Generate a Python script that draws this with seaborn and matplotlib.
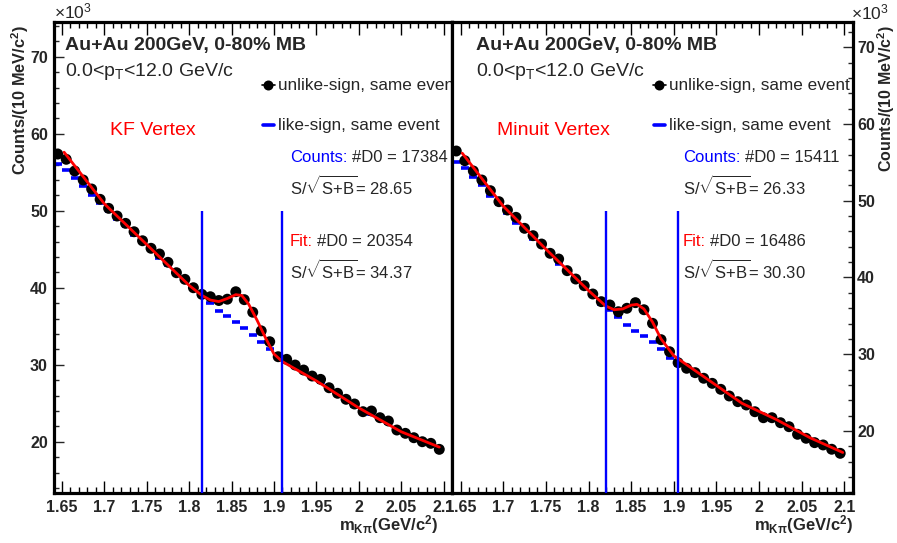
import matplotlib
matplotlib.use("Agg")
import matplotlib.pyplot as plt
from matplotlib.ticker import MultipleLocator, FuncFormatter
import seaborn as sns

# ---------------- data (counts in units of 10^3) ----------------
mass = [1.645, 1.655, 1.665, 1.675, 1.685, 1.695, 1.705, 1.715, 1.725, 1.735,
        1.745, 1.755, 1.765, 1.775, 1.785, 1.795, 1.805, 1.815, 1.825, 1.835,
        1.845, 1.855, 1.865, 1.875, 1.885, 1.895, 1.905, 1.915, 1.925, 1.935,
        1.945, 1.955, 1.965, 1.975, 1.985, 1.995, 2.005, 2.015, 2.025, 2.035,
        2.045, 2.055, 2.065, 2.075, 2.085, 2.095]

kf_unlike = [57.36, 56.68, 55.16, 53.99, 52.82, 51.48, 50.31, 49.31, 48.36, 47.27,
             46.10, 45.12, 44.38, 43.30, 41.95, 41.09, 40.00, 39.14, 38.83, 38.34,
             38.51, 39.48, 38.45, 36.82, 34.40, 32.99, 31.04, 30.70, 29.96, 29.31,
             28.53, 28.10, 27.01, 26.29, 25.51, 24.90, 23.90, 23.99, 23.12, 22.69,
             21.52, 21.09, 20.52, 20.00, 19.79, 19.01]
kf_like = [56.03, 55.29, 54.21, 53.21, 52.04, 51.04, 50.00, 48.88, 48.01, 46.84,
           45.97, 45.12, 43.90, 42.95, 41.87, 41.00, 40.00, 38.92, 38.05, 37.04,
           36.29, 35.55, 34.73, 33.86, 32.99, 32.00, 31.13, 30.40, 29.75, 29.05,
           28.35, 27.80, 26.90, 26.10, 25.35, 24.70, 23.90, 23.60, 22.95, 22.45,
           21.65, 21.00, 20.45, 19.95, 19.55, 18.95]
kf_fit_x = [1.6525, 1.70, 1.75, 1.80, 1.815, 1.825, 1.835, 1.845, 1.855, 1.862,
            1.87, 1.88, 1.89, 1.90, 1.91, 1.95, 2.00, 2.05, 2.095]
kf_fit_y = [57.6, 50.9, 45.6, 40.3, 39.0, 38.4, 38.2, 38.6, 39.1, 39.0,
            37.9, 35.8, 33.5, 31.4, 30.4, 27.9, 24.4, 21.3, 19.3]
kf_window = [1.815, 1.91]

mn_unlike = [56.48, 55.22, 53.88, 52.70, 51.31, 49.88, 48.79, 47.84, 46.41, 45.45,
             44.36, 43.15, 42.41, 40.89, 39.80, 38.93, 37.85, 36.85, 36.42, 35.54,
             35.99, 36.72, 35.80, 34.03, 31.90, 30.33, 28.90, 28.17, 27.60, 26.87,
             26.21, 25.43, 24.56, 23.82, 23.39, 22.51, 21.73, 21.73, 21.08, 20.56,
             19.57, 19.05, 18.48, 18.18, 17.62, 17.09]
mn_like = [55.09, 54.23, 53.06, 52.05, 50.62, 49.58, 48.37, 47.14, 46.19, 44.98,
           44.10, 42.93, 41.76, 40.98, 39.90, 38.80, 37.85, 36.55, 35.80, 34.89,
           33.81, 33.03, 32.38, 31.63, 30.64, 29.47, 28.65, 27.95, 27.35, 26.65,
           25.95, 25.20, 24.40, 23.65, 23.10, 22.35, 21.60, 21.45, 20.85, 20.35,
           19.45, 18.90, 18.35, 17.95, 17.45, 16.95]
mn_fit_x = [1.652, 1.70, 1.75, 1.80, 1.82, 1.83, 1.84, 1.85, 1.857, 1.865,
            1.875, 1.885, 1.90, 1.94, 1.98, 2.02, 2.06, 2.098]
mn_fit_y = [56.2, 49.3, 43.7, 38.3, 36.3, 35.8, 35.9, 36.4, 36.5, 35.9,
            34.2, 32.0, 29.8, 26.7, 23.6, 21.5, 19.1, 17.2]
mn_window = [1.82, 1.905]

panels = [
    dict(unlike=kf_unlike, like=kf_like, fx=kf_fit_x, fy=kf_fit_y, win=kf_window,
         win_top=50.0, ylim=(13.34, 74.55), vertex="KF Vertex",
         counts="#D0 = 17384", cs="28.65", fit="#D0 = 20354", fs="34.37"),
    dict(unlike=mn_unlike, like=mn_like, fx=mn_fit_x, fy=mn_fit_y, win=mn_window,
         win_top=48.7, ylim=(11.92, 73.33), vertex="Minuit Vertex",
         counts="#D0 = 15411", cs="26.33", fit="#D0 = 16486", fs="30.30"),
]

# ---------------- style ----------------
sns.set_style("white")
plt.rcParams["font.family"] = ["Liberation Sans", "DejaVu Sans"]
plt.rcParams["mathtext.fontset"] = "custom"
plt.rcParams["mathtext.rm"] = "Liberation Sans"
plt.rcParams["mathtext.it"] = "Liberation Sans:italic"
plt.rcParams["mathtext.bf"] = "Liberation Sans:bold"

W, H = 897, 543
fig = plt.figure(figsize=(W / 100, H / 100), dpi=100)
fig.patch.set_facecolor("white")

top_px, bot_px = 21.7, 493.0
frames = [(53.5, 452.0), (452.0, 853.0)]
axes = []
for (x0, x1) in frames:
    ax = fig.add_axes([x0 / W, 1 - bot_px / H, (x1 - x0) / W, (bot_px - top_px) / H])
    ax.set_facecolor("white")
    axes.append(ax)

for i, (ax, p) in enumerate(zip(axes, panels)):
    x0, x1 = frames[i]

    def ax_x(px):
        return (px - x0) / (x1 - x0)

    def ax_y(py):
        return (bot_px - py) / (bot_px - top_px)

    sns.scatterplot(x=mass, y=p["like"], ax=ax, marker="_", s=38, color="blue",
                    linewidth=2.6, zorder=2, legend=False)
    sns.scatterplot(x=mass, y=p["unlike"], ax=ax, marker="o", s=62, color="black",
                    edgecolor="none", zorder=3, legend=False)
    sns.lineplot(x=p["fx"], y=p["fy"], ax=ax, color="red", lw=2.0, zorder=4,
                 legend=False)
    ax.vlines(p["win"], p["ylim"][0], p["win_top"], color="blue", lw=1.7, zorder=5)

    ax.set_xlim(1.64, 2.11)
    ax.set_ylim(*p["ylim"])
    ax.xaxis.set_major_locator(MultipleLocator(0.05))
    ax.xaxis.set_minor_locator(MultipleLocator(0.01))
    ax.yaxis.set_major_locator(MultipleLocator(10))
    ax.yaxis.set_minor_locator(MultipleLocator(2))
    ax.xaxis.set_major_formatter(FuncFormatter(lambda v, _: f"{round(v, 3):g}"))
    ax.yaxis.set_major_formatter(FuncFormatter(lambda v, _: f"{v:g}"))
    for s in ax.spines.values():
        s.set_linewidth(2.3)
        s.set_color("black")
    ax.tick_params(axis="x", which="both", direction="in", top=True, bottom=True,
                   labelsize=11.5, pad=5, width=1.0, color="black")
    ax.tick_params(axis="x", which="major", length=9)
    ax.tick_params(axis="x", which="minor", length=4.5)
    if i == 0:
        ax.tick_params(axis="y", which="both", direction="in", left=True, right=False,
                       labelleft=True, labelright=False, labelsize=11.5, pad=4,
                       width=1.0)
    else:
        ax.yaxis.tick_right()
        ax.tick_params(axis="y", which="both", direction="in", left=False, right=True,
                       labelleft=False, labelright=True, labelsize=11.5, pad=3,
                       width=1.0)
    ax.tick_params(axis="y", which="major", length=7.5)
    ax.tick_params(axis="y", which="minor", length=3.8)
    for lab in ax.get_xticklabels() + ax.get_yticklabels():
        lab.set_fontweight("bold")
    ax.set_xlabel("")
    ax.set_ylabel("")

    tx = 65 if i == 0 else 476
    ax.text(ax_x(tx), ax_y(45), "Au+Au 200GeV, 0-80% MB", transform=ax.transAxes,
            fontsize=14, fontweight="bold", va="center", ha="left", clip_on=True)
    ax.text(ax_x(tx), ax_y(72), r"0.0<p$_{\mathrm{T}}$<12.0 GeV/c", transform=ax.transAxes,
            fontsize=14, va="center", ha="left", clip_on=True)

    # legend
    lx = 268 if i == 0 else 659
    ax.plot([ax_x(lx - 6), ax_x(lx + 7)], [ax_y(85), ax_y(85)], color="black", lw=1.2,
            transform=ax.transAxes, clip_on=True)
    ax.plot([ax_x(lx)], [ax_y(85)], marker="o", ms=7.2, color="black", mec="none",
            transform=ax.transAxes, clip_on=True)
    ax.text(ax_x(lx + 10), ax_y(85), "unlike-sign, same event", transform=ax.transAxes,
            fontsize=12.3, va="center", ha="left", clip_on=True)
    ax.plot([ax_x(lx - 5), ax_x(lx + 6)], [ax_y(125), ax_y(125)], color="blue", lw=2.6,
            transform=ax.transAxes, clip_on=True)
    ax.text(ax_x(lx + 10), ax_y(125), "like-sign, same event", transform=ax.transAxes,
            fontsize=12.3, va="center", ha="left", clip_on=True)

    vx = 110 if i == 0 else 497
    ax.text(ax_x(vx), ax_y(130), p["vertex"], transform=ax.transAxes, color="red",
            fontsize=14, va="center", ha="left", clip_on=True)

    cx = 290 if i == 0 else 683
    sq = r"S/$\sqrt{\mathrm{S{+}B}}$= "
    t1 = ax.text(ax_x(cx), ax_y(158), "Counts:", transform=ax.transAxes, color="blue",
                 fontsize=12, va="center", ha="left", clip_on=True)
    a1 = ax.annotate(p["counts"], xy=(1, 0.5), xycoords=t1, xytext=(3, 0),
                     textcoords="offset points", fontsize=12, va="center", ha="left",
                     annotation_clip=False)
    a1.set_clip_on(True)
    a1.set_clip_path(ax.patch)
    ax.text(ax_x(cx), ax_y(186), sq + p["cs"],
            transform=ax.transAxes, fontsize=12, va="center", ha="left", clip_on=True)
    t2 = ax.text(ax_x(cx), ax_y(241), "Fit:", transform=ax.transAxes, color="red",
                 fontsize=12, va="center", ha="left", clip_on=True)
    a2 = ax.annotate(p["fit"], xy=(1, 0.5), xycoords=t2, xytext=(3, 0),
                     textcoords="offset points", fontsize=12, va="center", ha="left",
                     annotation_clip=False)
    a2.set_clip_on(True)
    a2.set_clip_path(ax.patch)
    ax.text(ax_x(cx), ax_y(270), sq + p["fs"],
            transform=ax.transAxes, fontsize=12, va="center", ha="left", clip_on=True)

# axis titles and multipliers
ylab = r"Counts/(10 MeV/c$^{\mathbf{2}}$)"
fig.text(20 / W, 1 - 25 / H, ylab, rotation=90, fontsize=11.8, fontweight="bold",
         ha="center", va="top")
fig.text(886.5 / W, 1 - 25 / H, ylab, rotation=90, fontsize=11.5, fontweight="bold",
         ha="center", va="top")
xlab = r"m$_{\mathbf{K\pi}}$(GeV/c$^{\mathbf{2}}$)"
fig.text(438 / W, 1 - 525 / H, xlab, fontsize=12, fontweight="bold", ha="right",
         va="center")
fig.text(853 / W, 1 - 525 / H, xlab, fontsize=12, fontweight="bold", ha="right",
         va="center")
fig.text(54 / W, 1 - 11 / H, r"$\times$10$^{3}$", fontsize=12.5, ha="left", va="center")
fig.text(851 / W, 1 - 12 / H, r"$\times$10$^{3}$", fontsize=12.5, ha="left", va="center")

fig.savefig("out.png", dpi=100, facecolor="white")
